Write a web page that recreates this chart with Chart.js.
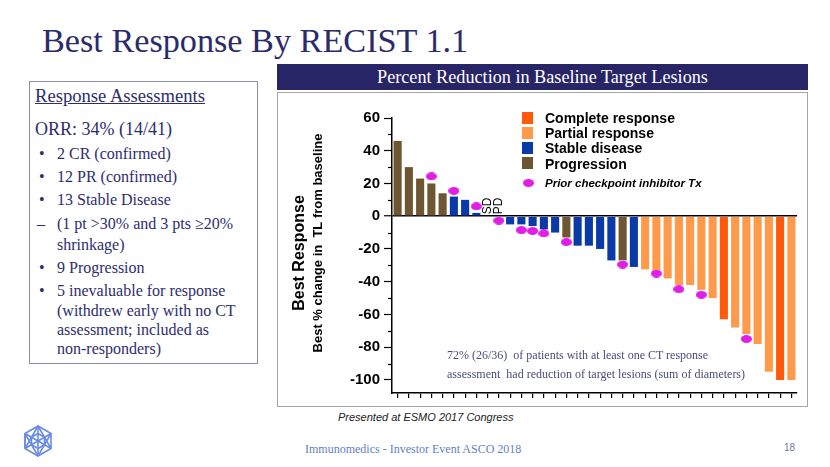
<!DOCTYPE html>
<html><head><meta charset="utf-8">
<script src="https://cdn.jsdelivr.net/npm/chart.js@4.4.0/dist/chart.umd.min.js"></script>
<style>
body{margin:0;width:830px;height:467px;position:relative;background:#fff;overflow:hidden;font-family:"Liberation Serif",serif;}
.a{position:absolute;white-space:nowrap;}
.lb{color:#2e2d6c;font-size:16px;line-height:20px;}
.lg{font-family:"Liberation Sans",Arial,sans-serif;font-weight:bold;font-size:14px;line-height:16px;color:#000;}
.sq{position:absolute;width:11px;height:12px;}
</style></head><body>
<div id="title" class="a" style="left:42px;top:18px;font-size:36px;line-height:44px;color:#2b2a6b;">Best Response By RECIST 1.1</div>

<div class="a" style="left:277px;top:64px;width:531px;height:26px;background:#282566;color:#fff;font-size:18.2px;line-height:26px;text-align:center;">Percent Reduction in Baseline Target Lesions</div>
<div class="a" style="left:277px;top:92px;width:529px;height:313px;border:1px solid #a6a6a6;"></div>
<canvas id="c" width="529" height="313" style="position:absolute;left:278px;top:93px;"></canvas>

<div class="a" style="left:29px;top:81px;width:227px;height:281px;border:1px solid #8c8cb0;"></div>
<div class="a lb" style="left:35px;top:86px;font-size:18.6px;text-decoration:underline;">Response Assessments</div>
<div class="a lb" style="left:35px;top:119px;font-size:18px;">ORR: 34% (14/41)</div>
<div class="a lb" style="left:39px;top:144px;">•</div><div class="a lb" style="left:57px;top:144px;">2 CR (confirmed)</div>
<div class="a lb" style="left:39px;top:167px;">•</div><div class="a lb" style="left:57px;top:167px;">12 PR (confirmed)</div>
<div class="a lb" style="left:39px;top:190px;">•</div><div class="a lb" style="left:57px;top:190px;">13 Stable Disease</div>
<div class="a lb" style="left:37px;top:214px;">–</div><div class="a lb" style="left:57px;top:214px;">(1 pt &gt;30% and 3 pts ≥20%</div>
<div class="a lb" style="left:57px;top:235px;">shrinkage)</div>
<div class="a lb" style="left:39px;top:258px;">•</div><div class="a lb" style="left:57px;top:258px;">9 Progression</div>
<div class="a lb" style="left:39px;top:281px;">•</div><div class="a lb" style="left:57px;top:281px;">5 inevaluable for response</div>
<div class="a lb" style="left:57px;top:301px;">(withdrew early with no CT</div>
<div class="a lb" style="left:57px;top:320px;">assessment; included as</div>
<div class="a lb" style="left:57px;top:339px;">non-responders)</div>

<div class="sq" style="left:522px;top:112px;background:#ff5a0a;"></div><div class="a lg" style="left:545px;top:110px;">Complete response</div>
<div class="sq" style="left:522px;top:127px;background:#ff9a4a;"></div><div class="a lg" style="left:545px;top:125px;">Partial response</div>
<div class="sq" style="left:522px;top:142px;background:#0a3aa8;"></div><div class="a lg" style="left:545px;top:140px;">Stable disease</div>
<div class="sq" style="left:522px;top:157px;background:#6e5632;"></div><div class="a lg" style="left:545px;top:156px;">Progression</div>
<div class="a" style="left:523px;top:179px;width:11px;height:8px;border-radius:50%;background:#e01ee6;"></div>
<div class="a lg" style="left:545px;top:175px;font-size:11.5px;font-style:italic;">Prior checkpoint inhibitor Tx</div>

<div class="a" style="left:447px;top:347px;font-size:12px;line-height:16px;color:#4a4a7c;">72% (26/36)&nbsp; of patients with at least one CT response</div>
<div class="a" style="left:447px;top:366px;font-size:12px;line-height:16px;color:#4a4a7c;">assessment&nbsp; had reduction of target lesions (sum of diameters)</div>

<div class="a" style="left:338px;top:410px;font-family:'Liberation Sans',Arial,sans-serif;font-style:italic;font-size:11px;line-height:14px;color:#222;">Presented at ESMO 2017 Congress</div>
<div class="a" style="left:305px;top:441px;font-size:12px;line-height:16px;color:#5f82c4;">Immunomedics - Investor Event ASCO 2018</div>
<div class="a" style="left:784px;top:442px;font-family:'Liberation Sans',Arial,sans-serif;font-size:10px;line-height:12px;color:#6b7b9b;">18</div>

<svg class="a" style="left:21px;top:424px;" width="34" height="34" viewBox="0 0 34 34">
<g stroke="#6b8be4" stroke-width="1.6" fill="none">
<polygon points="17,2 30,9.5 30,24.5 17,32 4,24.5 4,9.5"/>
<line x1="17" y1="2" x2="17" y2="32"/><line x1="4" y1="9.5" x2="30" y2="24.5"/><line x1="30" y1="9.5" x2="4" y2="24.5"/>
<polygon points="17,9.5 23.5,13.25 23.5,20.75 17,24.5 10.5,20.75 10.5,13.25"/>
<line x1="10.5" y1="13.25" x2="17" y2="2"/><line x1="23.5" y1="13.25" x2="17" y2="2"/>
<line x1="10.5" y1="20.75" x2="17" y2="32"/><line x1="23.5" y1="20.75" x2="17" y2="32"/>
<line x1="4" y1="9.5" x2="4" y2="24.5"/><line x1="10.5" y1="13.25" x2="4" y2="24.5"/><line x1="23.5" y1="13.25" x2="30" y2="24.5"/>
<line x1="10.5" y1="20.75" x2="4" y2="9.5"/><line x1="23.5" y1="20.75" x2="30" y2="9.5"/>
</g></svg>

<script>
// ---- data ----
const patients = ["1","2","3","4","5","6","7","8","9","10","11","12","13","14","15","16","17","18","19","20","21","22","23","24","25","26","27","28","29","30","31","32","33","34","35","36"];
const bestChange = [46,30,23,20,14,12,10,2,null,null,-5,-5,-6,-8,-10,-13,-18,-18,-20,-27,-27,-31,-32.5,-33,-38,-42,-42,-45,-50,-63,-68,-72,-78,-95,-100,-100];
const response = ["PD","PD","PD","PD","PD","SD","SD","SD","SD","PD","SD","SD","SD","SD","SD","PD","SD","SD","SD","SD","PD","SD","PR","PR","PR","PR","PR","PR","PR","CR","PR","PR","PR","PR","CR","PR"];
const priorCheckpoint = [null,null,null,24.3,null,15.5,null,6,null,-2.7,null,-8.5,-9,-10.5,null,-15.8,null,null,null,null,-29.5,null,null,-35,null,-44.6,null,-48,null,null,null,-75,null,null,null,null];
const slotText = [null,null,null,null,null,null,null,null,"SD","PD",null,null,null,null,null,null,null,null,null,null,null,null,null,null,null,null,null,null,null,null,null,null,null,null,null,null];
const yTicks = [-100,-80,-60,-40,-20,0,20,40,60];
const yMinorTicks = [-90,-70,-50,-30,-10,10,30,50];

const colors = {CR:"#ff5a0a", PR:"#ff9a4a", SD:"#0a3aa8", PD:"#6e5632"};

// fit title width
(function(){const t=document.getElementById('title');const w=t.offsetWidth;t.style.fontSize=(36*426/w)+'px';})();

// ellipse point image
const dot = document.createElement('canvas');
dot.width = 11; dot.height = 8;
(function(){const g=dot.getContext('2d');g.fillStyle='#e01ee6';g.beginPath();g.ellipse(5.5,4,5.5,4,0,0,Math.PI*2);g.fill();})();

const overlay = {
  id:'overlay',
  afterDraw(chart){
    const {ctx, scales:{x,y}} = chart;
    ctx.save();
    ctx.strokeStyle='#000'; ctx.lineWidth=1.2;
    yMinorTicks.forEach(v=>{const py=Math.round(y.getPixelForValue(v))+0.5;ctx.beginPath();ctx.moveTo(y.right-4,py);ctx.lineTo(y.right,py);ctx.stroke();});
    ctx.fillStyle='#000';
    ctx.font='12px "Liberation Sans", Arial, sans-serif';
    ctx.textAlign='left'; ctx.textBaseline='middle';
    slotText.forEach((s,i)=>{ if(!s) return;
      ctx.save(); ctx.translate(x.getPixelForValue(i), y.getPixelForValue(0)-2); ctx.rotate(-Math.PI/2); ctx.fillText(s,0,0); ctx.restore();});
    ctx.textAlign='center';
    ctx.save(); ctx.translate(22,160); ctx.rotate(-Math.PI/2);
    ctx.font='bold 16px "Liberation Sans", Arial, sans-serif'; ctx.fillText('Best Response',0,0); ctx.restore();
    ctx.save(); ctx.translate(40,150); ctx.rotate(-Math.PI/2);
    ctx.font='bold 13px "Liberation Sans", Arial, sans-serif'; ctx.fillText('Best % change in  TL from baseline',0,0); ctx.restore();
    ctx.restore();
  }
};

new Chart(document.getElementById('c'), {
  data:{
    labels: patients,
    datasets:[
      {type:'line', data: priorCheckpoint, showLine:false, pointStyle: dot, pointRadius:5, pointHoverRadius:5, order:0},
      {type:'bar', data: bestChange, backgroundColor: response.map(r=>colors[r]), barPercentage:0.72, categoryPercentage:1, order:1}
    ]
  },
  options:{
    responsive:false, animation:false,
    layout:{padding:{top:25,right:10,left:0,bottom:0}},
    plugins:{legend:{display:false}, tooltip:{enabled:false}},
    scales:{
      x:{type:'category', offset:true,
         ticks:{display:false},
         grid:{drawOnChartArea:false, drawTicks:true, tickLength:5, offset:false, color:'#000', lineWidth:1.2},
         border:{display:true, color:'#000', width:1.5},
         afterFit(s){ s.height = 13; }},
      y:{min:-108, max:60,
         afterBuildTicks(s){ s.ticks = yTicks.map(v=>({value:v})); },
         ticks:{font:{family:'"Liberation Sans", Arial, sans-serif', size:15, weight:'bold'}, color:'#000', padding:4, callback:v=>String(v)},
         grid:{color:c=>(c.tick && c.tick.value===0)?'#000':'rgba(0,0,0,0)', lineWidth:c=>(c.tick && c.tick.value===0)?1.5:1, tickColor:'#000', tickLength:8, tickWidth:1.2},
         border:{color:'#000', width:1.5},
         afterFit(s){ s.width = 114; }}
    }
  },
  plugins:[overlay]
});
</script>
</body></html>
